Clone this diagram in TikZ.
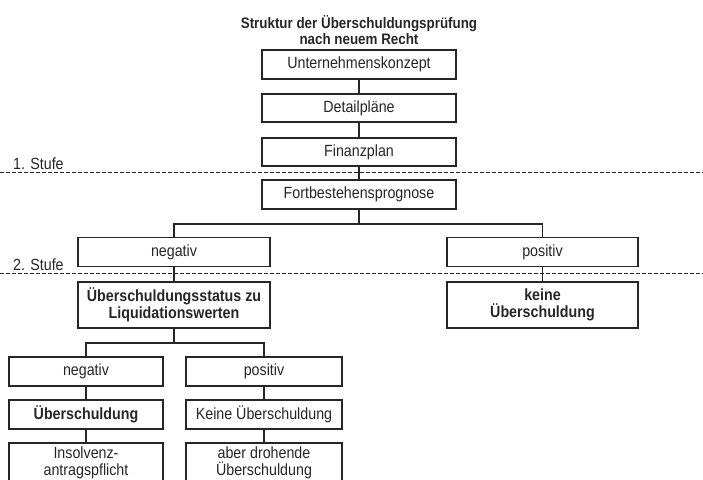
\documentclass[tikz,border=0pt]{standalone}
\usepackage{fontspec}
\setmainfont{Liberation Sans}[FakeStretch=0.88]
\begin{document}
\begin{tikzpicture}
    [x=1pt,y=-1pt,
    box/.style={rectangle,draw=black!85,line width=1.2pt,minimum height=29pt,inner sep=0pt,align=center,text=black!85,font=\fontsize{16.2}{16.5}\selectfont},
    bold/.style={font=\fontsize{16.2}{16.5}\selectfont\bfseries},
    link/.style={draw=black!85,line width=1.2pt},
    stufe/.style={draw=black!85,line width=1pt,dash pattern=on 4pt off 2pt}]

    \useasboundingbox (0,0) rectangle (703,479);
    \clip (0,0) rectangle (703,479);

    \node[align=center,text=black!85,font=\fontsize{15.2}{16}\selectfont\bfseries] (titel) at (359,30)
        {Struktur der Überschuldungsprüfung\\nach neuem Recht};

    % oberer Strang
    \node[box,minimum width=194pt] (konzept) at (359,64.5)  {Unternehmenskonzept};
    \node[box,minimum width=194pt,minimum height=28pt] (detail) at (359,108) {Detailpläne};
    \node[box,minimum width=194pt,minimum height=28pt] (finanz) at (359,152) {Finanzplan};
    \node[box,minimum width=194pt] (prognose) at (359,194.5) {Fortbestehensprognose};

    \node[box,minimum width=192pt] (neg) at (174,252)   {negativ};
    \node[box,minimum width=191pt] (pos) at (542.5,252) {positiv};
    \node[box,bold,minimum width=192pt,minimum height=46pt] (status) at (174,305)
        {Überschuldungsstatus zu\\Liquidationswerten};
    \node[box,bold,minimum width=191pt,minimum height=46pt] (keine) at (542.5,305)
        {keine\\Überschuldung};

    % unterer Strang
    \node[box,minimum width=154pt] (neg2) at (86,371.5)  {negativ};
    \node[box,minimum width=156pt] (pos2) at (264,371.5) {positiv};
    \node[box,bold,minimum width=154pt] (ueber) at (86,414.5) {Überschuldung};
    \node[box,minimum width=156pt] (kueber) at (264,414.5) {Keine Überschuldung};
    \node[box,minimum width=154pt,minimum height=40pt] (antrag) at (86,463)  {Insolvenz-\\antragspflicht};
    \node[box,minimum width=156pt,minimum height=40pt] (droh) at (264,463) {aber drohende\\Überschuldung};

    \node[anchor=west,inner sep=0pt,text=black!85,font=\fontsize{16.2}{16.5}\selectfont] (stufe1) at (13,163.5) {1. Stufe};
    \node[anchor=west,inner sep=0pt,text=black!85,font=\fontsize{16.2}{16.5}\selectfont] (stufe2) at (13,265) {2. Stufe};

    \coordinate (l1) at (0,172);
    \coordinate (r1) at (703,172);
    \coordinate (l2) at (0,273);
    \coordinate (r2) at (703,273);
    \coordinate (b1) at (359,224);
    \coordinate (b2) at (174,343);

    \draw[stufe] (l1) -- (r1);
    \draw[stufe] (l2) -- (r2);

    \draw[link] (konzept) -- (detail);
    \draw[link] (detail) -- (finanz);
    \draw[link] (finanz) -- (prognose);
    \draw[link] (prognose) -- (b1);
    \draw[link] (neg.north) |- (b1) -| (pos.north);
    \draw[link] (neg) -- (status);
    \draw[link] (pos) -- (keine);
    \draw[link] (status) -- (b2);
    \draw[link] (neg2.north) |- (b2) -| (pos2.north);
    \draw[link] (neg2) -- (ueber);
    \draw[link] (ueber) -- (antrag);
    \draw[link] (pos2) -- (kueber);
    \draw[link] (kueber) -- (droh);
\end{tikzpicture}
\end{document}
